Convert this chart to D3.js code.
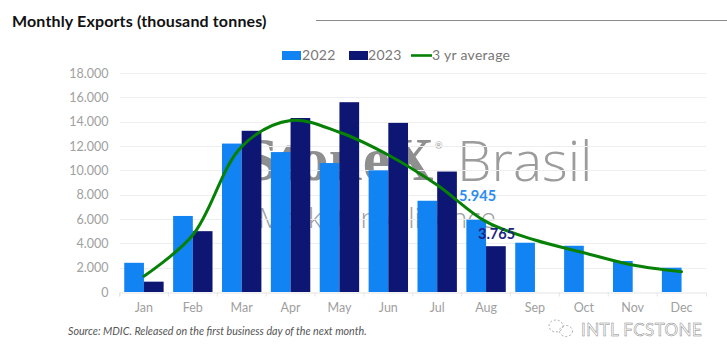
<!DOCTYPE html>
<html>
<head>
<meta charset="utf-8">
<script src="https://cdn.jsdelivr.net/npm/d3@7"></script>
<style>
  html, body { margin: 0; padding: 0; background: #fff; }
  svg { display: block; font-family: Lato, "Noto Sans", sans-serif; }
</style>
</head>
<body>
<div id="chart"></div>
<script>
const months = ['Jan','Feb','Mar','Apr','May','Jun','Jul','Aug','Sep','Oct','Nov','Dec'];
const exports2022 = [2400,6250,12200,11500,10600,10000,7500,5945,4050,3800,2550,2000];
const exports2023 = [850,5000,13250,14300,15600,13900,9900,3765];
const avg3yr = [1300,4680,11950,14100,13130,11260,8790,5780,4270,3230,2220,1670];
const yTicks = [0,2000,4000,6000,8000,10000,12000,14000,16000,18000];

const W = 727, H = 359;
const svg = d3.select('#chart').append('svg').attr('width', W).attr('height', H);

const x = d3.scaleBand().domain(months).range([119.5, 706]);
const y = d3.scaleLinear().domain([0, 18000]).range([292, 73]);
const fmt = v => d3.format(',')(v).replace(/,/g, '.');

// title + rule
svg.append('text').attr('x', 12).attr('y', 27).attr('font-size', 16).attr('font-weight', 700)
  .attr('letter-spacing', .15).attr('fill', '#111').text('Monthly Exports (thousand tonnes)');
svg.append('line').attr('x1', 316).attr('x2', 727).attr('y1', 20.5).attr('y2', 20.5)
  .attr('stroke', '#8a8a8a').attr('stroke-width', 1);

// watermark sits behind the bars
const wm = svg.append('g').attr('fill', '#9b9b9b');
wm.append('text').attr('x', 244).attr('y', 180).attr('font-size', 61).attr('font-weight', 700)
  .attr('font-family', '"Liberation Serif", serif').attr('fill', '#8f8f8f').text('StoneX');
wm.append('text').attr('x', 435).attr('y', 149).attr('font-size', 9).text('®');
wm.append('text').attr('x', 457).attr('y', 181).attr('font-size', 55)
  .attr('font-family', '"Open Sans", sans-serif').attr('font-weight', 300)
  .attr('fill', '#9c9c9c').text('Brasil');
wm.append('text').attr('x', 258).attr('y', 228).attr('font-size', 28)
  .attr('font-family', '"Open Sans", sans-serif').attr('font-weight', 300)
  .attr('fill', '#a0a0a0').text('Market Intelligence');

// grid
svg.append('g').selectAll('line').data(yTicks.filter(d => d > 0)).join('line')
  .attr('x1', 119.5).attr('x2', 706)
  .attr('y1', d => Math.round(y(d)) + .5).attr('y2', d => Math.round(y(d)) + .5)
  .attr('stroke', '#eeeeee');

// y axis
const yAxis = svg.append('g').attr('transform', 'translate(119.5,0)')
  .call(d3.axisLeft(y).tickValues(yTicks).tickFormat(fmt).tickSize(0).tickPadding(11));
yAxis.select('.domain').remove();
yAxis.selectAll('text').attr('font-size', 12.5).attr('fill', '#a0a0a0').attr('font-family', 'Lato, sans-serif');

// bars
const barW = 19.7;
svg.append('g').selectAll('rect').data(exports2022).join('rect')
  .attr('x', (d, i) => x(months[i]) + x.bandwidth() / 2 - barW)
  .attr('y', d => y(d)).attr('width', barW).attr('height', d => y(0) - y(d))
  .attr('fill', '#1283f3');
svg.append('g').selectAll('rect').data(exports2023).join('rect')
  .attr('x', (d, i) => x(months[i]) + x.bandwidth() / 2)
  .attr('y', d => y(d)).attr('width', barW).attr('height', d => y(0) - y(d))
  .attr('fill', '#0e1674');

// x axis
const xAxis = svg.append('g').attr('transform', 'translate(0,292.5)')
  .call(d3.axisBottom(x).tickSizeOuter(4).tickSizeInner(0).tickPadding(11));
xAxis.select('.domain').attr('stroke', '#e4e4e4');
xAxis.selectAll('text').attr('font-size', 12.5).attr('fill', '#a0a0a0').attr('font-family', 'Lato, sans-serif');
xAxis.append('g').selectAll('line').data(months).join('line')
  .attr('x1', d => x(d)).attr('x2', d => x(d)).attr('y1', 0).attr('y2', 4).attr('stroke', '#e4e4e4');

// 3 yr average
const line = d3.line().x((d, i) => x(months[i]) + x.bandwidth() / 2).y(d => y(d)).curve(d3.curveCatmullRom.alpha(.5));
svg.append('path').datum(avg3yr).attr('d', line).attr('fill', 'none')
  .attr('stroke', '#068106').attr('stroke-width', 3).attr('stroke-linecap', 'round');

// last data labels
svg.append('text').attr('x', 459).attr('y', 201).attr('font-size', 14.5).attr('font-weight', 700)
  .attr('fill', '#2b8cf2').text(fmt(exports2022[7]));
svg.append('text').attr('x', 478).attr('y', 239).attr('font-size', 14.5).attr('font-weight', 700)
  .attr('fill', '#1c2484').text(fmt(exports2023[7]));

// legend
const legend = svg.append('g').attr('font-size', 14).attr('letter-spacing', .3).attr('fill', '#777');
legend.append('rect').attr('x', 282).attr('y', 51).attr('width', 19).attr('height', 9).attr('fill', '#1283f3');
legend.append('text').attr('x', 302).attr('y', 60).text('2022');
legend.append('rect').attr('x', 349).attr('y', 51).attr('width', 19).attr('height', 9).attr('fill', '#0e1674');
legend.append('text').attr('x', 368).attr('y', 60).text('2023');
legend.append('line').attr('x1', 411).attr('x2', 432).attr('y1', 55.5).attr('y2', 55.5)
  .attr('stroke', '#068106').attr('stroke-width', 2.6);
legend.append('text').attr('x', 432).attr('y', 60).text('3 yr average');

// source
svg.append('text').attr('x', 68).attr('y', 335).attr('font-size', 10.7).attr('font-style', 'italic')
  .attr('fill', '#555').text('Source: MDIC. Released on the first business day of the next month.');

// wechat mark + account name
const wx = svg.append('g').attr('fill', 'none').attr('stroke', '#999').attr('stroke-width', .8).attr('stroke-dasharray', '2 2');
wx.append('ellipse').attr('cx', 556).attr('cy', 326).attr('rx', 7).attr('ry', 6);
wx.append('ellipse').attr('cx', 566).attr('cy', 331).attr('rx', 6.5).attr('ry', 5.5);
svg.append('text').attr('x', 581).attr('y', 336).attr('font-size', 17).attr('fill', '#fff')
  .attr('stroke', '#888').attr('stroke-width', .5).attr('letter-spacing', .4).text('INTL FCSTONE');
</script>
</body>
</html>
